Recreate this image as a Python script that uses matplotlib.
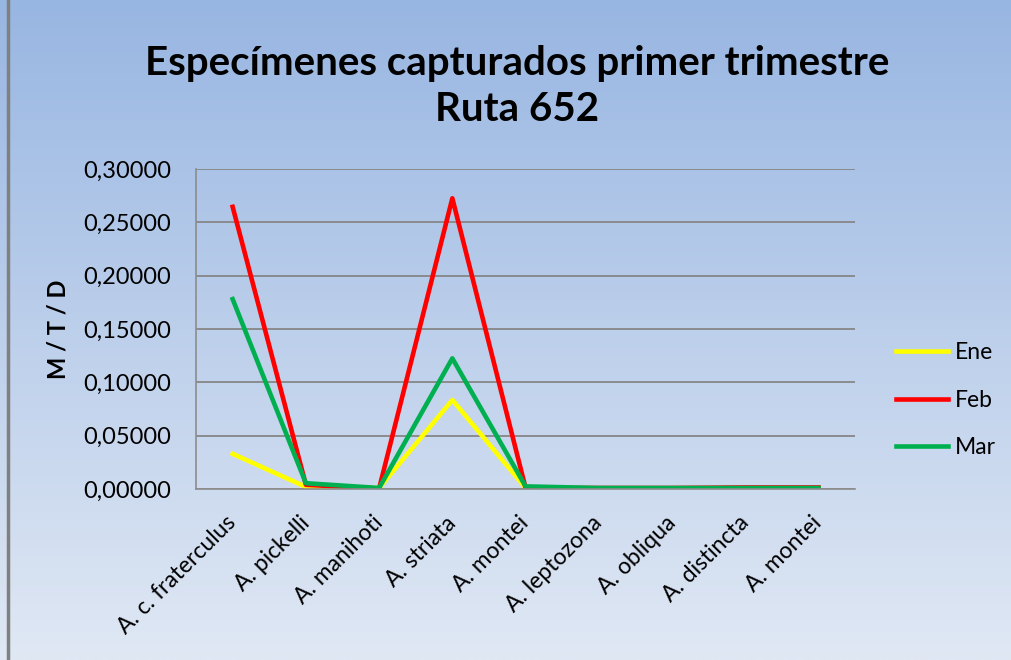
import numpy as np
import matplotlib.pyplot as plt
from matplotlib.patches import Rectangle

species = ["A. c. fraterculus", "A. pickelli", "A. manihoti", "A. striata", "A. montei",
           "A. leptozona", "A. obliqua", "A. distincta", "A. montei"]
ene = [0.0330, 0.0020, 0.0010, 0.0835, 0.0010, 0.0005, 0.0005, 0.0005, 0.0005]
feb = [0.2645, 0.0040, 0.0005, 0.2725, 0.0010, 0.0010, 0.0010, 0.0015, 0.0015]
mar = [0.1780, 0.0055, 0.0010, 0.1225, 0.0025, 0.0010, 0.0010, 0.0010, 0.0010]
y_ticks = [0.0, 0.05, 0.10, 0.15, 0.20, 0.25, 0.30]

plt.rcParams["font.family"] = ["Lato", "DejaVu Sans"]

fig = plt.figure(figsize=(10.12, 6.6), dpi=100)

# background gradient, darker blue at the top
bg = fig.add_axes([0, 0, 1, 1], zorder=-10)
top = np.array([152, 182, 226]) / 255
bottom = np.array([224, 232, 244]) / 255
t = np.linspace(0, 1, 256)[:, None]
grad = top * (1 - t) + bottom * t
bg.imshow(grad[:, None, :], aspect="auto", extent=[0, 1, 0, 1])
bg.set_xlim(0, 1)
bg.set_ylim(0, 1)
bg.axis("off")
bg.add_patch(Rectangle((0.008, -0.05), 1.1, 1.1, fill=False, edgecolor="#808080", linewidth=2.5))

ax = fig.add_axes([0.1937, 0.259, 0.6513, 0.485])
ax.patch.set_alpha(0)
x = np.arange(len(species))
ax.plot(x, ene, color="#ffff00", linewidth=3.3, label="Ene")
ax.plot(x, feb, color="#ff0000", linewidth=3.3, label="Feb")
ax.plot(x, mar, color="#00b050", linewidth=3.3, label="Mar")

ax.set_xlim(-0.5, len(species) - 0.5)
ax.set_ylim(0, 0.30)
ax.set_yticks(y_ticks)
ax.set_yticklabels([f"{v:.5f}".replace(".", ",") for v in y_ticks], fontsize=17)
ax.set_xticks(x)
ax.set_xticklabels(species, rotation=45, ha="right", va="center", rotation_mode="anchor", fontsize=16.5)
ax.tick_params(axis="y", length=0, pad=18)
ax.tick_params(axis="x", length=0, pad=22)
ax.grid(axis="y", color="#868686", linewidth=1.3)
ax.set_axisbelow(True)
for s in ["top", "right"]:
    ax.spines[s].set_visible(False)
for s in ["left", "bottom"]:
    ax.spines[s].set_color("#8c8c8c")
    ax.spines[s].set_linewidth(1.2)
ax.set_ylabel("M / T / D", fontsize=17, fontweight="bold", labelpad=10)

ax.legend(loc="center left", bbox_to_anchor=(1.03, 0.278), frameon=False, fontsize=16.5,
          handlelength=2.3, labelspacing=1.15, handletextpad=0.3)

fig.text(0.511, 0.869, "Especímenes capturados primer trimestre\nRuta 652", ha="center", va="center",
         fontsize=29, fontweight="bold", linespacing=1.32)

fig.savefig("out.png", dpi=100)
